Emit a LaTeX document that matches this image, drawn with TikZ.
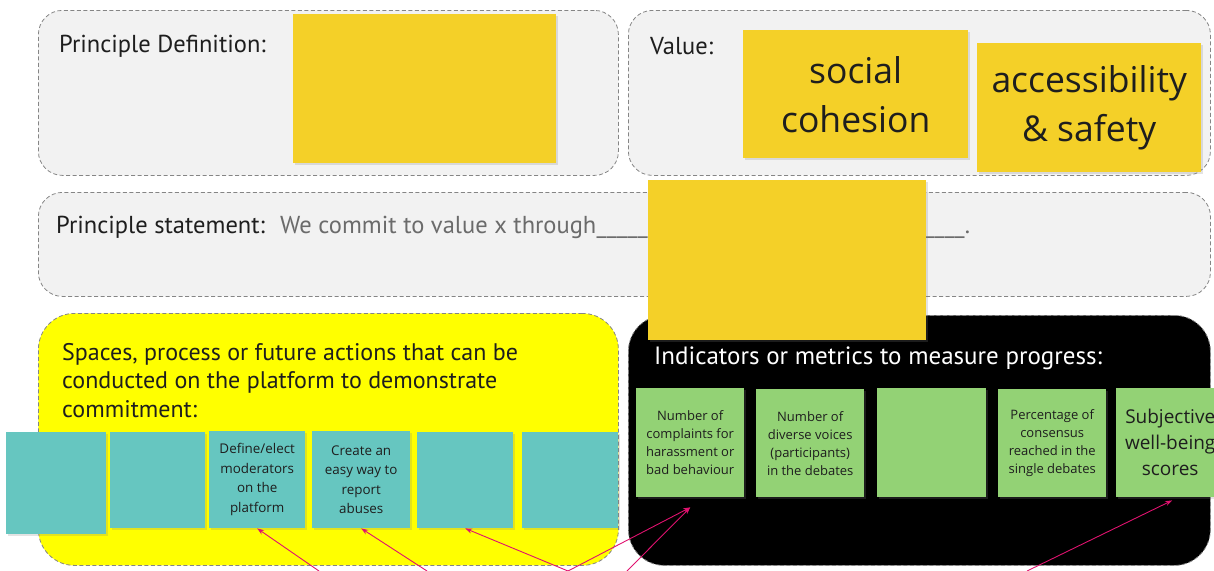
\documentclass[tikz,border=0pt]{standalone}
\usepackage{fontspec}
\setmainfont{Open Sans}
\newfontfamily\headfont{PT Sans}
\usetikzlibrary{shadows,arrows.meta}
\definecolor{panelgray}{HTML}{F2F2F2}
\definecolor{panelline}{HTML}{858585}
\definecolor{stickyyellow}{HTML}{F4D028}
\definecolor{brightyellow}{HTML}{FFFF00}
\definecolor{tealnote}{HTML}{66C6C0}
\definecolor{greennote}{HTML}{93D275}
\definecolor{arrowpink}{HTML}{E0126F}
\definecolor{stmtgray}{HTML}{6B6B6B}
\definecolor{inktext}{HTML}{1E1E1E}
\begin{document}
\begin{tikzpicture}[x=1pt,y=-1pt,
  panel/.style={draw=panelline, dash pattern=on 4pt off 2.5pt, line width=0.8pt,
    rounded corners=24pt, anchor=north west, inner sep=0pt},
  sticky/.style={anchor=north west, inner sep=0pt, align=center, text=inktext,
    drop shadow={opacity=0.22, shadow xshift=1.5pt, shadow yshift=-1.5pt}},
  yellownote/.style={sticky, fill=stickyyellow, font=\fontsize{35.5}{49}\selectfont},
  tealbox/.style={sticky, fill=tealnote, font=\fontsize{13.4}{19.5}\selectfont},
  greenbox/.style={sticky, fill=greennote, font=\fontsize{13}{18}\selectfont},
  heading/.style={font=\headfont\fontsize{24.5}{28}\selectfont, text=inktext, inner sep=0pt},
  bigheading/.style={font=\headfont\fontsize{24}{28.5}\selectfont, inner sep=0pt, align=left},
  pointer/.style={draw=arrowpink, line width=0.9pt, -{Stealth[length=7pt,width=5pt]}}
]
\useasboundingbox (0,0) rectangle (1214,570);
\clip (0,0) rectangle (1214,570);

% panels
\node[panel, fill=panelgray, minimum width=580pt, minimum height=165pt] (pdef) at (38,10) {};
\node[panel, fill=panelgray, minimum width=582pt, minimum height=165pt] (pval) at (628,10) {};
\node[panel, fill=panelgray, minimum width=1172pt, minimum height=104pt] (pstate) at (38,192) {};
\node[panel, fill=brightyellow, rounded corners=36pt, minimum width=580pt, minimum height=252pt] (pact) at (38,313) {};
\node[panel, fill=black, rounded corners=36pt, minimum width=582pt, minimum height=250pt] (pind) at (628,315) {};

% headings
\node[heading, anchor=west] (ldef) at (59,46) {Principle Definition:};
\node[heading, anchor=west] (lval) at (650,46) {Value:};
\node[heading, anchor=west] (lstate) at (56,227) {Principle statement:};
\node[heading, anchor=west, text=stmtgray] (tstate) at (280,227)
  {\hbox to 690pt{We commit to value x through\xleaders\hbox{\_}\hfill.}};
\node[bigheading, anchor=north west, text=inktext] (lact) at (62,343)
  {Spaces, process or future actions that can be\\conducted on the platform to demonstrate\\commitment:};
\node[bigheading, anchor=west, text=white, font=\headfont\fontsize{25}{28.5}\selectfont] (lind) at (654,358)
  {Indicators or metrics to measure progress:};

% yellow sticky notes
\node[yellownote, minimum width=263pt, minimum height=149pt] (sdef) at (293,14) {};
\node[yellownote, minimum width=225pt, minimum height=128pt] (ssoc) at (743,30) {social\\cohesion};
\node[yellownote, minimum width=224pt, minimum height=129pt] (sacc) at (977,43) {accessibility\\\& safety};
\node[yellownote, minimum width=278pt, minimum height=160pt] (sstate) at (648,180) {};

% teal notes
\node[tealbox, minimum width=100pt, minimum height=102pt] (t1) at (6,432) {};
\node[tealbox, minimum width=95pt, minimum height=96pt] (t2) at (110,432) {};
\node[tealbox, minimum width=96pt, minimum height=97pt] (t3) at (209,431) {Define/elect\\moderators\\on the\\platform};
\node[tealbox, minimum width=98pt, minimum height=97pt] (t4) at (312,431) {Create an\\easy way to\\report\\abuses};
\node[tealbox, minimum width=96pt, minimum height=96pt] (t5) at (417,432) {};
\node[tealbox, minimum width=96pt, minimum height=96pt] (t6) at (522,432) {};

% green notes
\node[greenbox, minimum width=108pt, minimum height=109pt] (g1) at (636,388) {Number of\\complaints for\\harassment or\\bad behaviour};
\node[greenbox, minimum width=108pt, minimum height=108pt] (g2) at (756,389) {Number of\\diverse voices\\(participants)\\in the debates};
\node[greenbox, minimum width=109pt, minimum height=109pt] (g3) at (877,388) {};
\node[greenbox, minimum width=108pt, minimum height=108pt] (g4) at (998,389) {Percentage of\\consensus\\reached in the\\single debates};
\node[greenbox, minimum width=108pt, minimum height=109pt, font=\fontsize{19}{26}\selectfont] (g5) at (1116,388) {Subjective\\well-being\\scores};

% pointers coming from below
\coordinate (a1) at (319,571);
\coordinate (a2) at (427,571);
\coordinate (a3) at (568,571);
\coordinate (a4) at (627,571);
\coordinate (a5) at (1027,571);
\draw[pointer] (a1) -- (t3.south);
\draw[pointer] (a2) -- (t4.south);
\draw[pointer] (a3) -- (t5.south);
\draw[pointer] (a3) -- ([yshift=-10pt]g1.south);
\draw[pointer] (a4) -- ([yshift=-10pt]g1.south);
\draw[pointer] (a5) -- ([xshift=2pt,yshift=-3pt]g5.south);
\end{tikzpicture}
\end{document}
